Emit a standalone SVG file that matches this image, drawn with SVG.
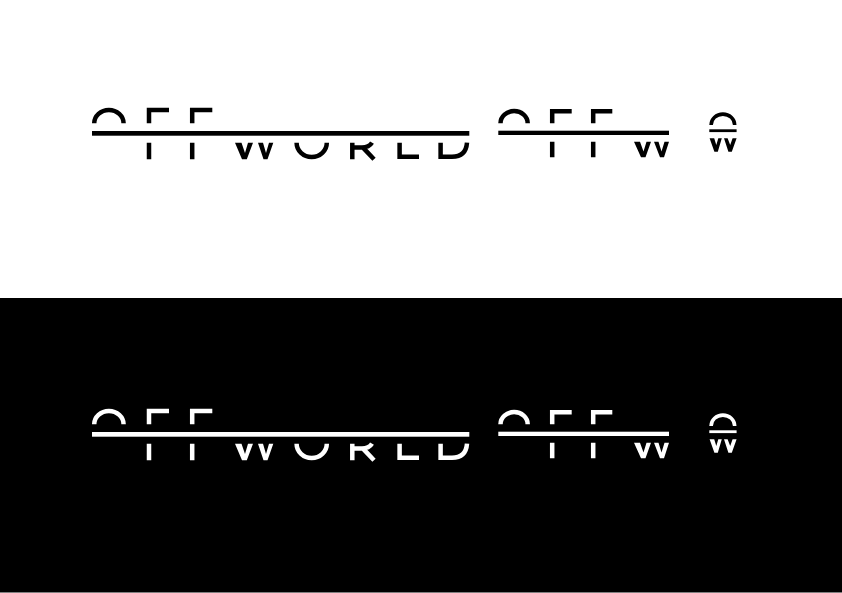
<svg xmlns="http://www.w3.org/2000/svg" width="842" height="593" viewBox="0 0 842 593">
<style>
.s{fill:none;stroke:currentColor;stroke-width:4.5}
.f{fill:currentColor;stroke:none}
</style>
<defs>
<g id="large">
<path class="s" d="M94.2 123.3A14.7 13.4 0 0 1 123.6 123.3"/>
<rect class="f" x="92" y="131" width="377.3" height="4.7"/>
<path class="s" d="M149 123.3V110H169M192.2 123.3V110H212.3"/>
<path class="s" d="M149 142.7V159.3M192.2 142.7V159.3"/>
<path class="f" d="M235 142.7H241.5L245 153L248 142.7H253L246.8 159.3H242ZM258 142.7H263L266 153L269 142.7H273.3L267.5 159.3H263.5Z"/>
<path class="s" d="M296.6 142.7A15.1 14.3 0 0 0 326.8 142.7"/>
<path class="s" d="M352.3 142.7V159.3M352.3 147.6H362Q369 147.6 372 142.7M363 147.6L374 159.3"/>
<path class="s" d="M399.6 142.7V156.8H419"/>
<path class="s" d="M440.6 142.7V156.8H452Q466 156.8 467 142.7"/>
</g>
<g id="medium">
<path class="s" d="M500.5 123.3A13.6 12.2 0 0 1 527.7 123.3"/>
<rect class="f" x="498.3" y="130.7" width="170.7" height="4.3"/>
<path class="s" d="M552.2 123.3V111.2H571.7M593.2 123.3V111.2H612.3"/>
<path class="s" d="M552.2 141.7V157.3M593.2 141.7V157.3"/>
<path class="f" d="M634 141.7H640L643.5 151.5L646.5 141.7H651L645.5 157.3H641ZM654 141.7H658.5L661.5 151.5L664.5 141.7H669L664 157.3H660Z"/>
</g>
<g id="small">
<path class="s" style="stroke-width:3.6" d="M711.1 125A11.8 10.9 0 0 1 734.7 125"/>
<rect class="f" x="709.3" y="129.3" width="27.3" height="2.8"/>
<path class="f" d="M709.6 138.3H714.2L716.3 145L718.3 138.3H721.8L717.8 151.7H714.4ZM724 138.3H727.6L730.2 145L732.6 138.3H736.6L731.8 151.7H728.4Z"/>
</g>
</defs>
<rect width="842" height="593" fill="#fff"/>
<rect id="panel-dark" x="0" y="298" width="842" height="294.5" fill="#000"/>
<g id="logos-light" color="#000">
<use id="logo-large" href="#large"/>
<use id="logo-medium" href="#medium"/>
<use id="logo-small" href="#small"/>
</g>
<g id="logos-dark" color="#fff" transform="translate(0 301)">
<use id="logo-large-dark" href="#large"/>
<use id="logo-medium-dark" href="#medium"/>
<use id="logo-small-dark" href="#small"/>
</g>
</svg>
